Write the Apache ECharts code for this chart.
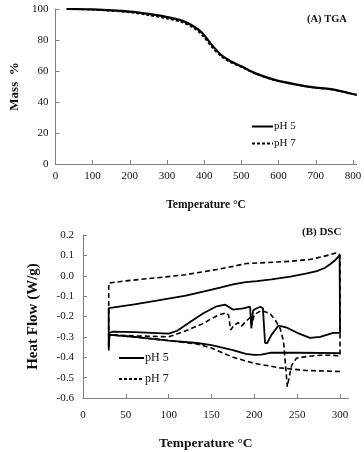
<!DOCTYPE html>
<html><head><meta charset="utf-8">
<script src="https://cdn.jsdelivr.net/npm/echarts@6/dist/echarts.min.js"></script>
<style>html,body{margin:0;padding:0;background:#fff}#c{width:364px;height:452px}</style>
</head><body><div id="c"></div>
<script>
// ---- TGA data ----
var tgaTemp = [30,100,200,250,300,340,370,395,420,445,470,500,540,590,650,690,740,770,810];
var tgaPH5 = [100,99.7,98.3,96.8,94.8,92.5,89,84.5,77,70.5,66.5,63,58.3,54.3,51.2,49.6,48.3,46.9,44.6];
var tgaPH7 = [100,99.5,97.8,96,93.8,91.5,88,83,75.5,69.5,65.7,62.5,58,54,51,49.4,48.1,46.8,44.6];
var tgaXTicks = [0,100,200,300,400,500,600,700,800];
var tgaYTicks = [0,20,40,60,80,100];

// ---- DSC data, pH 5 ----
var top5T = [30,60,86,120,144,160,175,190,203,220,242,260,273,282,288,294,299.5];
var top5H = [-0.159,-0.14,-0.122,-0.098,-0.074,-0.058,-0.042,-0.031,-0.026,-0.018,-0.004,0.01,0.023,0.038,0.055,0.075,0.1];
var mid5T = [31,35,60,100,110,125,140,156,166,175,187,195,196.5,198.5,201,207,210,212.5,215,220,228,237,250,265,277,292,300];
var mid5H = [-0.28,-0.274,-0.277,-0.284,-0.27,-0.227,-0.185,-0.15,-0.142,-0.166,-0.16,-0.152,-0.258,-0.17,-0.163,-0.152,-0.16,-0.33,-0.33,-0.29,-0.245,-0.253,-0.28,-0.305,-0.3,-0.28,-0.28];
var bot5T = [31,60,100,133,150,175,190,200,208,220,250,300];
var bot5H = [-0.29,-0.3,-0.318,-0.33,-0.34,-0.365,-0.383,-0.388,-0.387,-0.377,-0.378,-0.38];
var spike5T = [30];
var spike5H = [-0.367];

// ---- DSC data, pH 7 ----
var top7T = [30,50,86,120,156,175,191,215,242,265,281,290,295,298,300];
var top7H = [-0.036,-0.025,-0.01,0.005,0.031,0.046,0.06,0.065,0.071,0.08,0.095,0.105,0.112,0.11,0.1];
var mid7T = [31,60,100,120,140,150,160,167.5,170,172.3,176,181,185,190,195,197,200,208.5,218,224,230,234,236,238.5,241,243.6,249,260,277,290,300];
var mid7H = [-0.29,-0.295,-0.3,-0.27,-0.235,-0.21,-0.19,-0.182,-0.195,-0.266,-0.245,-0.23,-0.247,-0.225,-0.205,-0.24,-0.19,-0.17,-0.185,-0.215,-0.258,-0.32,-0.42,-0.545,-0.49,-0.44,-0.405,-0.397,-0.39,-0.39,-0.393];
var bot7T = [31,60,100,133,150,175,200,230,260,300];
var bot7H = [-0.29,-0.3,-0.318,-0.335,-0.355,-0.4,-0.43,-0.452,-0.465,-0.47];
var spike7T = [30];
var spike7H = [-0.35];

var seriesNames = ['pH 5','pH 7'];
var titleA = '(A) TGA', titleB = '(B) DSC';

function pairs(t, h) { return t.map(function (v, i) { return [v, h[i]]; }); }
function rev(a) { return a.slice().reverse(); }

var path5 = [].concat(rev(pairs(bot5T, bot5H)), pairs(spike5T, spike5H), pairs(top5T, top5H), rev(pairs(mid5T, mid5H)));
var path7 = [].concat(rev(pairs(bot7T, bot7H)), pairs(spike7T, spike7H), pairs(top7T, top7H), rev(pairs(mid7T, mid7H)));

var FONT = 'Liberation Serif';
var axisColor = '#808080';

var chart = echarts.init(document.getElementById('c'), null, {renderer: 'canvas'});
var labelStyle = {fontFamily: FONT, fontSize: 11, color: '#111'};
var nameStyleA = {fontFamily: FONT, fontSize: 11.5, fontWeight: 'bold', color: '#111'};
var nameStyleB = {fontFamily: FONT, fontSize: 13.5, fontWeight: 'bold', color: '#111', padding: [0, 20, 0, 0]};
var tick = {show: true, inside: true, length: 4, lineStyle: {color: axisColor}};

chart.setOption({
  animation: false,
  backgroundColor: '#fff',
  title: [
    {text: titleA, left: 307, top: 14, textStyle: {fontFamily: FONT, fontSize: 10.5, fontWeight: 'bold', color: '#111'}, padding: 0},
    {text: titleB, left: 302, top: 227, textStyle: {fontFamily: FONT, fontSize: 11, fontWeight: 'bold', color: '#111'}, padding: 0}
  ],
  legend: [
    {data: seriesNames, orient: 'vertical', left: 251, top: 121, itemWidth: 21, itemHeight: 12, itemGap: 6, padding: 0,
     itemStyle: {opacity: 0},
     textStyle: {fontFamily: FONT, fontSize: 11, color: '#111', padding: [0,0,0,-4]}},
    {data: seriesNames, orient: 'vertical', left: 118, top: 352, itemWidth: 25, itemHeight: 12, itemGap: 9, padding: 0,
     itemStyle: {opacity: 0},
     textStyle: {fontFamily: FONT, fontSize: 12, color: '#111', padding: [0,0,0,-4]}}
  ],
  grid: [
    {left: 39, top: 9, width: 324, height: 155},
    {left: 83, top: 235, width: 265.6, height: 166}
  ],
  xAxis: [
    {gridIndex: 0, type: 'value', min: 0, max: 810, interval: 100,
     name: 'Temperature °C', nameLocation: 'middle', nameGap: 35, nameTextStyle: nameStyleA,
     axisLine: {onZero: false, lineStyle: {color: axisColor}}, axisTick: tick,
     splitLine: {show: false}, axisLabel: Object.assign({margin: 7, showMaxLabel: false}, labelStyle)},
    {gridIndex: 1, type: 'value', min: 0, max: 310, interval: 50,
     name: 'Temperature °C', nameLocation: 'middle', nameGap: 39, nameTextStyle: nameStyleB,
     axisLine: {onZero: false, lineStyle: {color: axisColor}}, axisTick: tick,
     splitLine: {show: false}, axisLabel: Object.assign({margin: 12, showMaxLabel: false}, labelStyle)}
  ],
  yAxis: [
    {gridIndex: 0, type: 'value', min: 0, max: 100, interval: 20,
     name: 'Mass  %', nameLocation: 'middle', nameGap: 32, nameTextStyle: {fontFamily: FONT, fontSize: 13, fontWeight: 'bold', color: '#111'},
     axisLine: {show: true, onZero: false, lineStyle: {color: axisColor}}, axisTick: tick,
     splitLine: {show: false}, axisLabel: Object.assign({margin: 7}, labelStyle)},
    {gridIndex: 1, type: 'value', min: -0.6, max: 0.2, interval: 0.1,
     name: 'Heat Flow (W/g)', nameLocation: 'middle', nameGap: 42, nameTextStyle: {fontFamily: FONT, fontSize: 15, fontWeight: 'bold', color: '#111'},
     axisLine: {show: true, onZero: false, lineStyle: {color: axisColor}}, axisTick: tick,
     splitLine: {show: false},
     axisLabel: Object.assign({margin: 9, formatter: function (v) { var s = (Math.round(v * 10) / 10).toFixed(1); return s === '-0.0' ? '0.0' : s; }}, labelStyle)}
  ],
  series: [
    {name: seriesNames[0], type: 'line', xAxisIndex: 0, yAxisIndex: 0, symbol: 'none', smooth: 0.3,
     data: pairs(tgaTemp, tgaPH5), lineStyle: {color: '#000', width: 2.2}, itemStyle: {color: '#000'}},
    {name: seriesNames[1], type: 'line', xAxisIndex: 0, yAxisIndex: 0, symbol: 'none', smooth: 0.3,
     data: pairs(tgaTemp, tgaPH7), lineStyle: {color: '#000', width: 1.6, type: [3, 2]}, itemStyle: {color: '#000'}},
    {name: seriesNames[0], type: 'line', xAxisIndex: 1, yAxisIndex: 1, symbol: 'none',
     data: path5, lineStyle: {color: '#000', width: 1.8}, itemStyle: {color: '#000'}},
    {name: seriesNames[1], type: 'line', xAxisIndex: 1, yAxisIndex: 1, symbol: 'none',
     data: path7, lineStyle: {color: '#000', width: 1.6, type: [5, 3]}, itemStyle: {color: '#000'}}
  ]
});
</script></body></html>
